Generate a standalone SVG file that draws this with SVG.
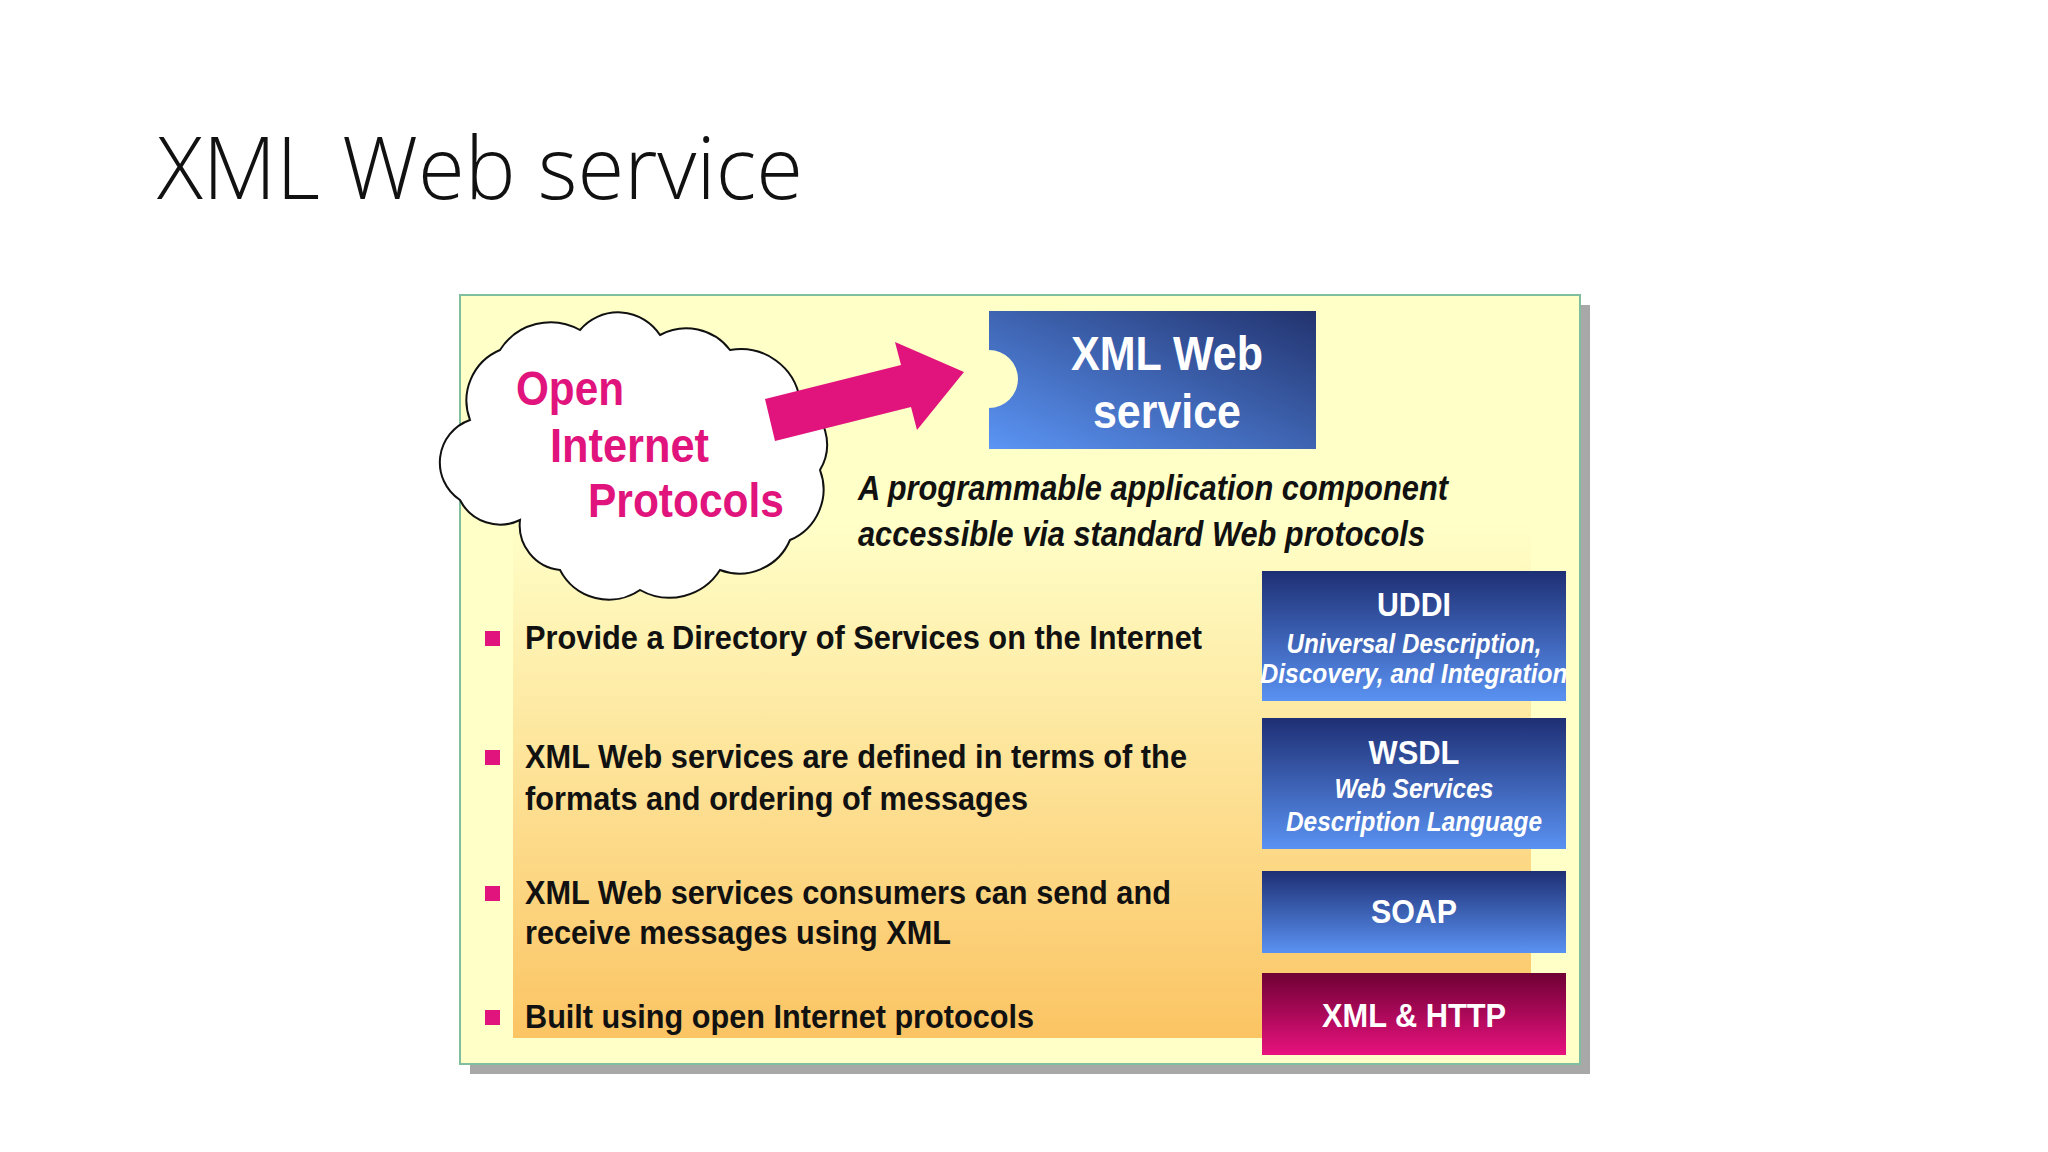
<svg xmlns="http://www.w3.org/2000/svg" width="2048" height="1152" viewBox="0 0 2048 1152">
<defs>
<linearGradient id="org" x1="0" y1="0" x2="0" y2="1"><stop offset="0" stop-color="#ffffc8"/><stop offset="1" stop-color="#fbc463"/></linearGradient>
<linearGradient id="blu" x1="0" y1="0" x2="0" y2="1"><stop offset="0" stop-color="#1e2f74"/><stop offset="1" stop-color="#5a92f2"/></linearGradient>
<linearGradient id="hdr" x1="0" y1="1" x2="1" y2="0"><stop offset="0" stop-color="#5b95f5"/><stop offset="1" stop-color="#22336e"/></linearGradient>
<linearGradient id="mag" x1="0" y1="0" x2="0" y2="1"><stop offset="0" stop-color="#6e0034"/><stop offset="1" stop-color="#e8127e"/></linearGradient>
<style>
.b{font-family:"Liberation Sans",Arial,sans-serif;font-weight:bold;font-size:34px;fill:#111}
.w{font-family:"Liberation Sans",Arial,sans-serif;font-weight:bold;fill:#fff}
.wi{font-family:"Liberation Sans",Arial,sans-serif;font-weight:bold;font-style:italic;fill:#fff;font-size:27px}
.m{font-family:"Liberation Sans",Arial,sans-serif;font-weight:bold;fill:#e0147c;font-size:48px}
.sq{fill:#e0147c}
</style>
</defs>
<rect width="2048" height="1152" fill="#fff"/>
<text x="157" y="199" font-family="Open Sans, Noto Sans, sans-serif" font-weight="300" font-size="86" fill="#111" textLength="646" lengthAdjust="spacingAndGlyphs">XML Web service</text>
<g id="panel">
<rect x="470" y="305" width="1120" height="769" fill="#a8a8a8"/>
<rect x="460" y="295" width="1120" height="769" fill="#ffffc8" stroke="#7fbfa0" stroke-width="2"/>
<rect x="513" y="522" width="1018" height="516" fill="url(#org)"/>
</g>
<g id="cloud">
<path d="M470 420 A55 55 0 0 1 500 350 A60 60 0 0 1 580 330 A50 50 0 0 1 660 335 A55 55 0 0 1 730 350 A60 60 0 0 1 800 400 A50 50 0 0 1 820 470 A55 55 0 0 1 790 540 A55 55 0 0 1 720 570 A60 60 0 0 1 640 590 A55 55 0 0 1 560 570 A45 45 0 0 1 520 520 A45 45 0 0 1 460 500 A45 45 0 0 1 470 420 Z" fill="#fff" stroke="#111" stroke-width="2"/>
<text class="m" x="516" y="405" textLength="108" lengthAdjust="spacingAndGlyphs">Open</text>
<text class="m" x="550" y="462" textLength="159" lengthAdjust="spacingAndGlyphs">Internet</text>
<text class="m" x="588" y="517" textLength="196" lengthAdjust="spacingAndGlyphs">Protocols</text>
</g>
<g id="connectors">
<polygon points="765,399 901,365 895,342 964,372 917,430 911,407 775,441" fill="#e0147c"/>
</g>
<g id="service">
<path d="M989 311 H1316 V449 H989 V408 A29 29 0 0 0 989 350 Z" fill="url(#hdr)"/>
<text class="w" x="1167" y="370" font-size="48" text-anchor="middle" textLength="192" lengthAdjust="spacingAndGlyphs">XML Web</text>
<text class="w" x="1167" y="428" font-size="48" text-anchor="middle" textLength="148" lengthAdjust="spacingAndGlyphs">service</text>
</g>
<g id="desc" font-family="Liberation Sans, Arial, sans-serif" font-weight="bold" font-style="italic" font-size="35" fill="#111">
<text x="858" y="500" textLength="590" lengthAdjust="spacingAndGlyphs">A programmable application component</text>
<text x="858" y="546" textLength="567" lengthAdjust="spacingAndGlyphs">accessible via standard Web protocols</text>
</g>
<g id="bullets">
<rect class="sq" x="485" y="631" width="15" height="15"/>
<text class="b" x="525" y="649" textLength="677" lengthAdjust="spacingAndGlyphs">Provide a Directory of Services on the Internet</text>
<rect class="sq" x="485" y="750" width="15" height="15"/>
<text class="b" x="525" y="768" textLength="662" lengthAdjust="spacingAndGlyphs">XML Web services are defined in terms of the</text>
<text class="b" x="525" y="810" textLength="503" lengthAdjust="spacingAndGlyphs">formats and ordering of messages</text>
<rect class="sq" x="485" y="886" width="15" height="15"/>
<text class="b" x="525" y="904" textLength="646" lengthAdjust="spacingAndGlyphs">XML Web services consumers can send and</text>
<text class="b" x="525" y="944" textLength="426" lengthAdjust="spacingAndGlyphs">receive messages using XML</text>
<rect class="sq" x="485" y="1010" width="15" height="15"/>
<text class="b" x="525" y="1028" textLength="509" lengthAdjust="spacingAndGlyphs">Built using open Internet protocols</text>
</g>
<g id="uddi">
<rect x="1262" y="571" width="304" height="130" fill="url(#blu)"/>
<text class="w" x="1414" y="616" font-size="33" text-anchor="middle" textLength="74" lengthAdjust="spacingAndGlyphs">UDDI</text>
<text class="wi" x="1414" y="653" text-anchor="middle" textLength="255" lengthAdjust="spacingAndGlyphs">Universal Description,</text>
<text class="wi" x="1414" y="683" text-anchor="middle" textLength="307" lengthAdjust="spacingAndGlyphs">Discovery, and Integration</text>
</g>
<g id="wsdl">
<rect x="1262" y="718" width="304" height="131" fill="url(#blu)"/>
<text class="w" x="1414" y="764" font-size="33" text-anchor="middle" textLength="91" lengthAdjust="spacingAndGlyphs">WSDL</text>
<text class="wi" x="1414" y="798" text-anchor="middle" textLength="159" lengthAdjust="spacingAndGlyphs">Web Services</text>
<text class="wi" x="1414" y="831" text-anchor="middle" textLength="256" lengthAdjust="spacingAndGlyphs">Description Language</text>
</g>
<g id="soap">
<rect x="1262" y="871" width="304" height="82" fill="url(#blu)"/>
<text class="w" x="1414" y="923" font-size="33" text-anchor="middle" textLength="86" lengthAdjust="spacingAndGlyphs">SOAP</text>
</g>
<g id="xmlhttp">
<rect x="1262" y="973" width="304" height="82" fill="url(#mag)"/>
<text class="w" x="1414" y="1027" font-size="33" text-anchor="middle" textLength="184" lengthAdjust="spacingAndGlyphs">XML &amp; HTTP</text>
</g>
</svg>
